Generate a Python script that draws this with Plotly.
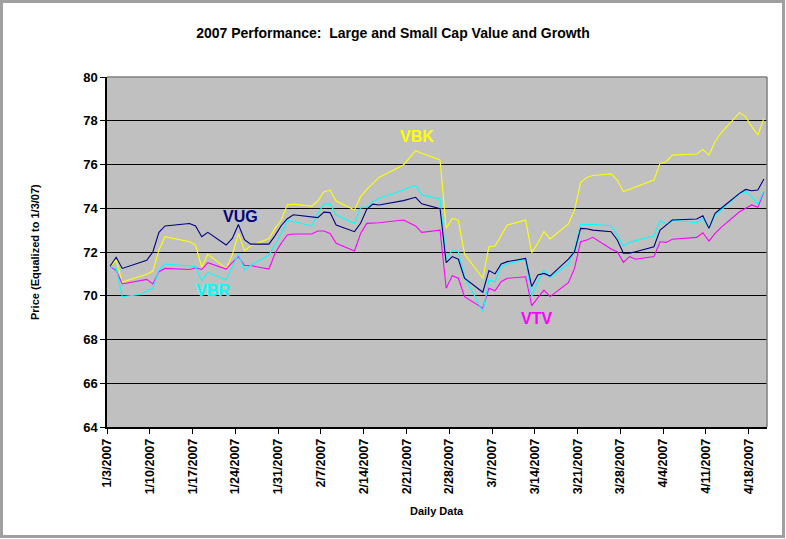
import plotly.graph_objects as go
import pandas as pd

dates = [
    "2007-01-03", "2007-01-04", "2007-01-05",
    "2007-01-08", "2007-01-09", "2007-01-10", "2007-01-11", "2007-01-12",
    "2007-01-16", "2007-01-17", "2007-01-18", "2007-01-19",
    "2007-01-22", "2007-01-23", "2007-01-24", "2007-01-25", "2007-01-26",
    "2007-01-29", "2007-01-30", "2007-01-31", "2007-02-01", "2007-02-02",
    "2007-02-05", "2007-02-06", "2007-02-07", "2007-02-08", "2007-02-09",
    "2007-02-12", "2007-02-13", "2007-02-14", "2007-02-15", "2007-02-16",
    "2007-02-20", "2007-02-21", "2007-02-22", "2007-02-23",
    "2007-02-26", "2007-02-27", "2007-02-28", "2007-03-01", "2007-03-02",
    "2007-03-05", "2007-03-06", "2007-03-07", "2007-03-08", "2007-03-09",
    "2007-03-12", "2007-03-13", "2007-03-14", "2007-03-15", "2007-03-16",
    "2007-03-19", "2007-03-20", "2007-03-21", "2007-03-22", "2007-03-23",
    "2007-03-26", "2007-03-27", "2007-03-28", "2007-03-29", "2007-03-30",
    "2007-04-02", "2007-04-03", "2007-04-04", "2007-04-05",
    "2007-04-09", "2007-04-10", "2007-04-11", "2007-04-12", "2007-04-13",
    "2007-04-16", "2007-04-17", "2007-04-18", "2007-04-19", "2007-04-20",
]

vug = [
    71.35, 71.76, 71.25,
    71.53, 71.62, 72.00, 72.90, 73.19,
    73.30, 73.19, 72.70, 72.90,
    72.32, 72.62, 73.26, 72.56, 72.36,
    72.36, 72.75, 73.20, 73.52, 73.70,
    73.58, 73.57, 73.82, 73.80, 73.23,
    72.93, 73.31, 73.95, 74.19, 74.15,
    74.35, 74.42, 74.50, 74.20,
    73.98, 71.51, 71.79, 71.67, 70.80,
    70.16, 71.15, 71.00, 71.45, 71.56,
    71.71, 70.42, 70.95, 71.02, 70.90,
    71.67, 72.01, 73.08, 73.06, 73.00,
    72.93, 72.55, 71.94, 71.95, 72.01,
    72.24, 73.00, 73.23, 73.46,
    73.51, 73.66, 73.08, 73.77, 74.00,
    74.68, 74.86, 74.80, 74.83, 75.34,
]

vbk = [
    71.33, 71.63, 70.63,
    70.87, 70.98, 71.13, 72.09, 72.70,
    72.47, 72.32, 71.30, 71.90,
    71.25, 71.86, 72.85, 72.06, 72.27,
    72.62, 73.08, 73.46, 74.15, 74.19,
    74.10, 74.33, 74.76, 74.82, 74.33,
    73.92, 74.53, 74.86, 75.14, 75.41,
    75.98, 76.28, 76.63, 76.51,
    76.21, 73.08, 73.54, 73.45, 71.91,
    70.80, 72.24, 72.27, 72.78, 73.23,
    73.46, 71.97, 72.40, 72.94, 72.60,
    73.28, 73.92, 75.17, 75.41, 75.50,
    75.57, 75.29, 74.76, 74.86, 74.96,
    75.29, 76.05, 76.13, 76.43,
    76.48, 76.69, 76.43, 77.04, 77.45,
    78.37, 78.19, 77.73, 77.35, 78.11,
]

vbr = [
    71.33, 71.25, 69.96,
    70.06, 70.22, 70.34, 71.18, 71.45,
    71.36, 71.33, 70.69, 71.07,
    70.72, 71.33, 71.91, 71.18, 71.38,
    71.86, 72.32, 72.82, 73.43, 73.39,
    73.19, 73.77, 74.19, 74.20, 73.69,
    73.31, 74.03, 74.05, 74.30, 74.45,
    74.83, 74.96, 75.04, 74.61,
    74.42, 71.67, 72.09, 72.01, 70.87,
    69.27, 70.72, 70.64, 71.33, 71.45,
    71.67, 69.96, 70.64, 71.18, 70.84,
    71.45, 72.09, 73.26, 73.26, 73.27,
    73.20, 72.78, 72.27, 72.43, 72.52,
    72.73, 73.43, 73.28, 73.46,
    73.34, 73.54, 73.11, 73.69, 73.92,
    74.68, 74.76, 74.53, 74.19, 74.80,
]

vtv = [
    71.33, 71.15, 70.54,
    70.69, 70.75, 70.54, 71.10, 71.25,
    71.20, 71.28, 71.20, 71.51,
    71.22, 71.51, 71.79, 71.38, 71.38,
    71.22, 71.94, 72.40, 72.78, 72.82,
    72.82, 72.96, 72.96, 72.85, 72.40,
    72.05, 72.85, 73.31, 73.31, 73.34,
    73.46, 73.31, 73.19, 72.90,
    73.00, 70.34, 70.92, 70.80, 69.96,
    69.43, 70.34, 70.23, 70.64, 70.80,
    70.87, 69.55, 69.90, 70.26, 69.96,
    70.60, 71.25, 72.47, 72.55, 72.67,
    72.14, 72.01, 71.53, 71.79, 71.67,
    71.79, 72.47, 72.44, 72.58,
    72.67, 72.88, 72.50, 72.85, 73.13,
    73.84, 74.00, 74.15, 74.04, 74.76,
]

series_names = ["VBK", "VTV", "VBR", "VUG"]
series_values = [vbk, vtv, vbr, vug]
series_colors = ["#FFFF00", "#FF00FF", "#00FFFF", "#000080"]

title_text = "2007 Performance:  Large and Small Cap Value and Growth"
x_title = "Daily Data"
y_title = "Price (Equalized to 1/3/07)"

FONT = "Liberation Sans, Arial, sans-serif"

# Excel date axis: each day is a slot, the point sits at the slot centre
x = pd.to_datetime(dates) + pd.Timedelta(hours=12)

fig = go.Figure()
for name, vals, color in zip(series_names, series_values, series_colors):
    fig.add_trace(go.Scatter(x=x, y=vals, mode="lines", name=name,
                             line=dict(color=color, width=1.1)))

L, R, T, B = 107, 19, 77, 112
W, H = 786, 539
pw, ph = W - L - R, H - T - B


def px(xp):
    return (xp - L) / pw


def py(yp):
    return (H - B - yp) / ph


label_pos = {"VUG": (240, 216), "VBR": (213, 290), "VBK": (417, 137), "VTV": (536, 318)}
annotations = []
for name, color in zip(series_names, series_colors):
    lx, ly = label_pos[name]
    annotations.append(dict(text=name, x=px(lx), y=py(ly), xref="paper", yref="paper",
                            showarrow=False, xanchor="center", yanchor="middle",
                            font=dict(family=FONT, size=16, color=color, weight="bold")))

annotations.append(dict(text=x_title, x=px(437), y=py(511), xref="paper", yref="paper",
                        showarrow=False, xanchor="center", yanchor="middle",
                        font=dict(family=FONT, size=11, color="black", weight="bold")))
annotations.append(dict(text=y_title, x=px(35), y=py(252), xref="paper", yref="paper",
                        showarrow=False, xanchor="center", yanchor="middle", textangle=-90,
                        font=dict(family=FONT, size=11, color="black", weight="bold")))

shapes = [
    # plot area top / right border (gray)
    dict(type="line", xref="paper", yref="paper", x0=0, x1=1, y0=1, y1=1,
         line=dict(color="#808080", width=1.5), layer="above"),
    dict(type="line", xref="paper", yref="paper", x0=1, x1=1, y0=0, y1=1,
         line=dict(color="#808080", width=1.5), layer="above"),
    # outer chart frame
    dict(type="rect", xref="paper", yref="paper",
         x0=px(1.5), x1=px(W - 2.5), y0=py(H - 2.5), y1=py(1.5),
         line=dict(color="#A0A0A0", width=3), layer="above"),
]

fig.update_layout(
    width=W, height=H,
    margin=dict(l=L, r=R, t=T, b=B, autoexpand=False),
    paper_bgcolor="white",
    plot_bgcolor="#C0C0C0",
    showlegend=False,
    font=dict(family=FONT, color="black"),
    title=dict(text=title_text, x=0.5, xref="container", xanchor="center",
               y=1 - 33 / H, yref="container", yanchor="middle",
               font=dict(family=FONT, size=14, color="black", weight="bold")),
    annotations=annotations,
    shapes=shapes,
    xaxis=dict(type="date", range=["2007-01-03", "2007-04-21"],
               tick0="2007-01-03", dtick=7 * 86400000, tickformat="%-m/%-d/%Y",
               tickangle=-90, ticks="outside", ticklen=5, tickcolor="black",
               showline=True, linecolor="black", linewidth=1.5, showgrid=False,
               zeroline=False,
               tickfont=dict(family=FONT, size=12.5, color="black", weight="bold")),
    yaxis=dict(range=[64, 80], dtick=2, tick0=64,
               ticks="outside", ticklen=5, tickcolor="black",
               showline=True, linecolor="black", linewidth=1.5,
               showgrid=True, gridcolor="black", gridwidth=1, zeroline=False,
               tickfont=dict(family=FONT, size=13, color="black", weight="bold")),
)

fig.write_html("out.html", config={"displayModeBar": False},
               post_script="document.body.style.margin='0px';")
